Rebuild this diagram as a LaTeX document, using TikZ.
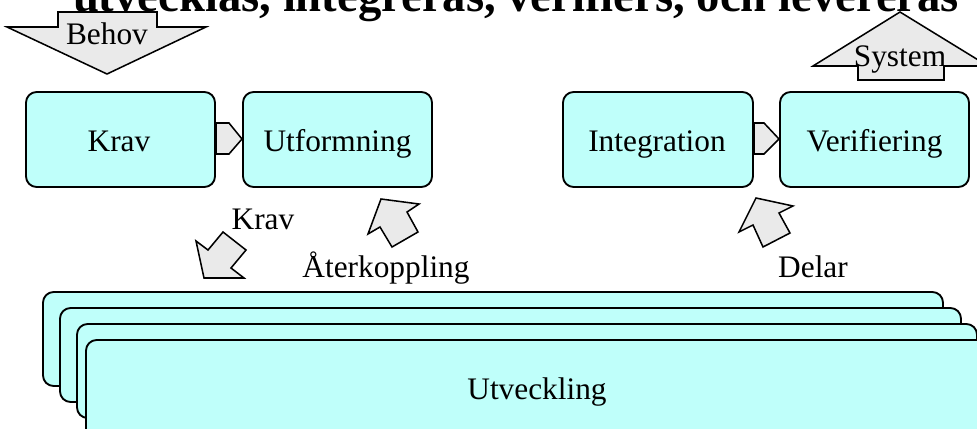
\documentclass[tikz,border=0pt]{standalone}
\usepackage{fontspec}
\setmainfont{Liberation Serif}
\begin{document}
\begin{tikzpicture}[x=0.75pt,y=-0.75pt,
  every node/.style={inner sep=0pt,outer sep=0pt},
  lbl/.style={font=\fontsize{23.5}{26}\selectfont,anchor=base},
  ttl/.style={font=\fontsize{35}{40}\selectfont\bfseries,anchor=base},
  cbox/.style={draw=black,line width=1.4pt,fill=boxcol,rounded corners=8pt},
  blockarrow/.style={draw=black,line width=1.15pt,fill=arrowcol,line join=miter}]
\definecolor{boxcol}{HTML}{BFFFFA}
\definecolor{arrowcol}{HTML}{EAEAEA}
\useasboundingbox (0,0) rectangle (977,428);
\clip (0,0) rectangle (977,428);
\node[ttl] (title) at (516,12) {utvecklas, integreras, verifiers, och levereras};
% top arrows
\draw[blockarrow] (7,27)--(58,27)--(58,12)--(157,12)--(157,27)--(206,27)--(107,74)--cycle;
\draw[blockarrow] (900,12)--(988,66)--(944,66)--(944,80)--(858,80)--(858,66)--(813,66)--cycle;
% boxes
\draw[cbox] (26,92) rectangle (215,187);
\draw[cbox] (243,92) rectangle (432,187);
\draw[cbox] (563,92) rectangle (753,187);
\draw[cbox] (780,92) rectangle (969,187);
% small arrows
\draw[blockarrow] (216,123)--(229,123)--(242,139)--(229,154)--(216,154)--cycle;
\draw[blockarrow] (754,123)--(764,123)--(779,139)--(764,154)--(754,154)--cycle;
% feedback arrows
\draw[blockarrow] (196,241)--(204,278)--(244,278)--(231,268)--(246,250)--(223,232)--(208,250)--cycle;
\draw[blockarrow] (381,199)--(419,204)--(407,212)--(418,232)--(392,247)--(380,227)--(368,234)--cycle;
\draw[blockarrow] (756,198)--(793,206)--(779,213)--(790,233)--(763,247)--(753,225)--(739,232)--cycle;
% stack
\draw[cbox] (43,292) rectangle (943,386);
\draw[cbox] (60,308) rectangle (961,402);
\draw[cbox] (77,324) rectangle (977,418);
\draw[cbox] (86,340) rectangle (1000,460);
% labels
\node[lbl] (behov) at (107,45) {Behov};
\node[lbl] (system) at (900,67) {System};
\node[lbl] (krav) at (119,151) {Krav};
\node[lbl] (utf) at (337.5,151) {Utformning};
\node[lbl] (integ) at (657,151) {Integration};
\node[lbl] (verif) at (874.5,151) {Verifiering};
\node[lbl] (krav2) at (263,229) {Krav};
\node[lbl] (ater) at (386,277) {Återkoppling};
\node[lbl] (delar) at (813,277) {Delar};
\node[lbl] (utv) at (537,399) {Utveckling};
\end{tikzpicture}
\end{document}
